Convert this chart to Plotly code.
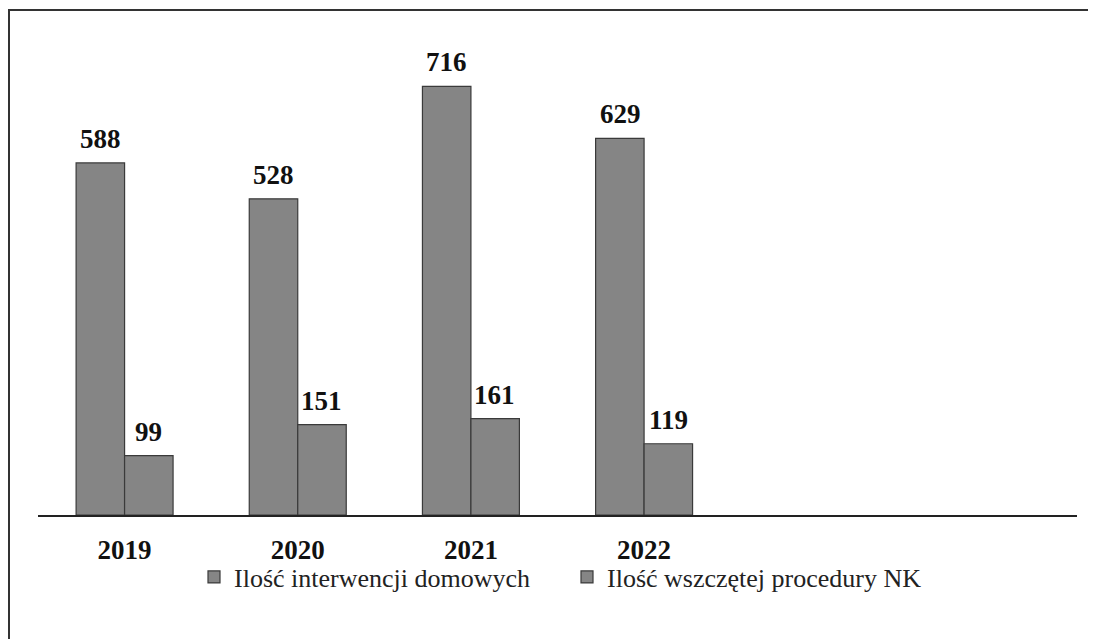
import plotly.graph_objects as go

categories = ["2019", "2020", "2021", "2022"]
interwencje = [588, 528, 716, 629]
procedury = [99, 151, 161, 119]
series_names = ["Ilość interwencji domowych", "Ilość wszczętej procedury NK"]

OFF = 8  # page body margin
W, H = 1096 - OFF, 639 - OFF
L, R, T, B = 30, 19, 22, 124
pw = W - L - R
ph = H - T - B

bar_color = "#858585"
line_color = "#3a3a3a"
font_fam = "Liberation Serif"

fig = go.Figure()
for name, vals in zip(series_names, [interwencje, procedury]):
    fig.add_trace(go.Bar(
        x=categories, y=vals, name=name,
        marker=dict(color=bar_color, line=dict(color=line_color, width=1.2)),
        hoverinfo="skip",
    ))

# value labels
for si, vals in enumerate([interwencje, procedury]):
    shift = -24 if si == 0 else 24
    for i, v in enumerate(vals):
        fig.add_annotation(
            x=i, y=v, xref="x", yref="y", text=f"<b>{v}</b>",
            showarrow=False, xshift=shift, yshift=24,
            font=dict(family=font_fam, size=27, color="#111"),
        )

def px2paper_x(px):
    return (px - OFF - L) / pw

def px2paper_y(py):
    return (H - B - (py - OFF)) / ph

# outer frame (top and left edges visible)
fig.add_shape(type="line", xref="paper", yref="paper",
              x0=px2paper_x(8), x1=px2paper_x(1100),
              y0=px2paper_y(10), y1=px2paper_y(10),
              line=dict(color="#333", width=2), layer="below")
fig.add_shape(type="line", xref="paper", yref="paper",
              x0=px2paper_x(9), x1=px2paper_x(9),
              y0=px2paper_y(10), y1=px2paper_y(650),
              line=dict(color="#333", width=2), layer="below")

fig.update_layout(
    width=W, height=H,
    margin=dict(l=L, r=R, t=T, b=B),
    paper_bgcolor="white", plot_bgcolor="white",
    font=dict(family=font_fam),
    barmode="group", bargap=0.44, bargroupgap=0,
    showlegend=True,
    legend=dict(orientation="h", x=px2paper_x(194), xanchor="left", y=px2paper_y(577), yanchor="middle",
                bgcolor="rgba(0,0,0,0)",
                font=dict(family=font_fam, size=26, color="#222"),
                itemwidth=30, entrywidth=328, entrywidthmode="pixels", traceorder="normal"),
    xaxis=dict(type="category", range=[-0.5, 5.5], showline=True, linecolor="#222", linewidth=1.5,
               showgrid=False, ticks="", ticklabelstandoff=10,
               tickfont=dict(family=font_fam, size=27, color="#111", weight="bold")),
    yaxis=dict(range=[0, 810], visible=False, showgrid=False),
)

fig.write_html("out.html")
